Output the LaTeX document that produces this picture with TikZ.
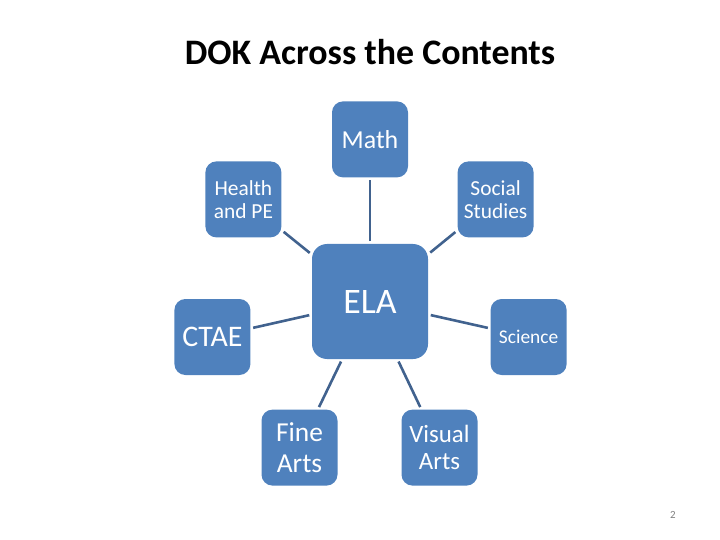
\documentclass[tikz,border=0pt]{standalone}
\usepackage{fontspec}
\setmainfont{Carlito}
\usepackage{tikz}
\usetikzlibrary{positioning}

\definecolor{boxblue}{HTML}{4F81BD}
\definecolor{linkblue}{HTML}{41628E}

\begin{document}
\begin{tikzpicture}[x=1bp, y=-1bp, semithick]

    \tikzstyle{subj} = [rectangle, rounded corners=11bp, minimum width=76bp, minimum height=76bp, inner sep=0pt, fill=boxblue, text=white, align=center]
    \tikzstyle{link} = [draw=linkblue, line width=2.6bp, shorten <=2.5bp, shorten >=2.5bp]

    \useasboundingbox (0,0) rectangle (720,540);

    \node (title)  at (370,52)   [font=\fontsize{36}{42}\selectfont\bfseries] {DOK Across the Contents};

    \node (ela)    [subj, minimum width=116bp, minimum height=115bp, rounded corners=15bp, font=\fontsize{36}{42}\selectfont] at (370,301.5) {ELA};

    \node (math)    [subj, above=66bp of ela, font=\fontsize{26}{30}\selectfont]                   {Math};
    \node (health)  [subj, above left=6bp and 30bp of ela, font=\fontsize{21.5}{23}\selectfont]     {Health\\and PE};
    \node (social)  [subj, above right=6bp and 29bp of ela, font=\fontsize{21.5}{23}\selectfont]    {Social\\Studies};
    \node (ctae)    [subj, left=61bp of ela, yshift=-35.5bp, font=\fontsize{30}{34}\selectfont]     {CTAE};
    \node (science) [subj, right=62bp of ela, yshift=-35.5bp, font=\fontsize{19.5}{22}\selectfont]  {Science};
    \node (fine)    [subj, below=50bp of ela, xshift=-70.5bp, font=\fontsize{27.5}{31}\selectfont]  {Fine\\Arts};
    \node (visual)  [subj, below=50bp of ela, xshift=69.5bp, font=\fontsize{25}{27}\selectfont]     {Visual\\Arts};

    \path[link]  (ela)  edge  (math);
    \path[link]  (ela)  edge  (health);
    \path[link]  (ela)  edge  (social);
    \path[link]  (ela)  edge  (ctae);
    \path[link]  (ela)  edge  (science);
    \path[link]  (ela)  edge  (fine);
    \path[link]  (ela)  edge  (visual);

    \node (page)   at (673,515)  [font=\fontsize{11}{13}\selectfont, text=gray] {2};
\end{tikzpicture}
\end{document}
